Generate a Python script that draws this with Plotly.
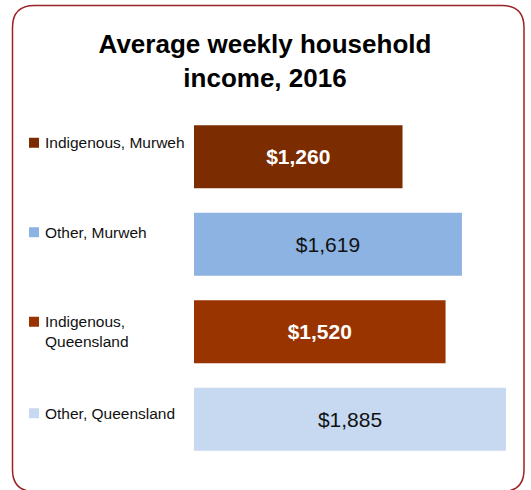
import plotly.graph_objects as go

# ---- data ----
categories = ["Indigenous, Murweh", "Other, Murweh", "Indigenous,<br>Queensland", "Other, Queensland"]
income = [1260, 1619, 1520, 1885]
bar_colors = ["#7B2C00", "#8DB3E2", "#993300", "#C6D9F1"]
label_bold = [True, False, True, False]
label_colors = ["#FFFFFF", "#111111", "#FFFFFF", "#111111"]

# ---- layout constants (pixels) ----
W, H = 531, 490
ML = 194
MT = 113
PW = 331
PH = 350.4
MR = W - ML - PW
MB = H - MT - PH

def px_x(x):
    return (x - ML) / PW

def px_y(y):
    return (MT + PH - y) / PH

texts = [("<b>${:,}</b>" if b else "${:,}").format(v) for v, b in zip(income, label_bold)]
ypos = list(range(len(categories)))

fig = go.Figure(go.Bar(
    x=income,
    y=ypos,
    orientation="h",
    marker=dict(color=bar_colors, line=dict(width=0)),
    text=texts,
    textposition="inside",
    insidetextanchor="middle",
    textangle=0,
    textfont=dict(size=21, color=label_colors, family="Liberation Sans, Arial, sans-serif"),
    hoverinfo="skip",
))

# legend-style labels on the left
label_shift = [14, 12, 0, 6]
shapes = []
annotations = []
for i, (cat, col) in enumerate(zip(categories, bar_colors)):
    annotations.append(dict(
        x=px_x(43), xref="paper", xanchor="left",
        y=i, yref="y", yanchor="middle", yshift=label_shift[i],
        text=cat, showarrow=False, align="left",
        font=dict(size=15.5, color="#111111", family="Liberation Sans, Arial, sans-serif"),
    ))
    nlines = cat.count("<br>") + 1
    first_line_offset = label_shift[i] + (nlines - 1) * 10
    shapes.append(dict(
        type="rect", xref="paper", yref="y",
        xsizemode="pixel", ysizemode="pixel",
        xanchor=px_x(29), yanchor=i,
        x0=0, x1=10, y0=first_line_offset - 5, y1=first_line_offset + 5,
        fillcolor=col, line=dict(width=0),
    ))

# rounded frame
L, T, R, B, rad = 12.5, 5.5, 524, 492, 22
path = (
    f"M {px_x(L + rad)},{px_y(T)} L {px_x(R - rad)},{px_y(T)} "
    f"Q {px_x(R)},{px_y(T)} {px_x(R)},{px_y(T + rad)} "
    f"L {px_x(R)},{px_y(B - rad)} Q {px_x(R)},{px_y(B)} {px_x(R - rad)},{px_y(B)} "
    f"L {px_x(L + rad)},{px_y(B)} Q {px_x(L)},{px_y(B)} {px_x(L)},{px_y(B - rad)} "
    f"L {px_x(L)},{px_y(T + rad)} Q {px_x(L)},{px_y(T)} {px_x(L + rad)},{px_y(T)} Z"
)
shapes.append(dict(type="path", xref="paper", yref="paper", path=path,
                   line=dict(color="#9B2226", width=1.5), fillcolor="rgba(0,0,0,0)", layer="above"))

fig.update_layout(
    width=W, height=H,
    margin=dict(l=ML, r=MR, t=MT, b=MB, pad=0),
    paper_bgcolor="white", plot_bgcolor="white",
    showlegend=False,
    bargap=0.28,
    title=dict(
        text="<b>Average weekly household<br>income, 2016</b>",
        x=265 / W, xref="container", xanchor="center",
        y=1 - 53 / H, yref="container", yanchor="top",
        font=dict(size=26, color="#000000", family="Liberation Sans, Arial, sans-serif"),
    ),
    xaxis=dict(range=[0, 2000], visible=False, fixedrange=True),
    yaxis=dict(range=[3.5, -0.5], visible=False, fixedrange=True),
    shapes=shapes,
    annotations=annotations,
)

fig.write_html(
    "out.html",
    config={"displayModeBar": False},
    post_script="document.body.style.margin='0';document.body.style.overflow='hidden';",
)
